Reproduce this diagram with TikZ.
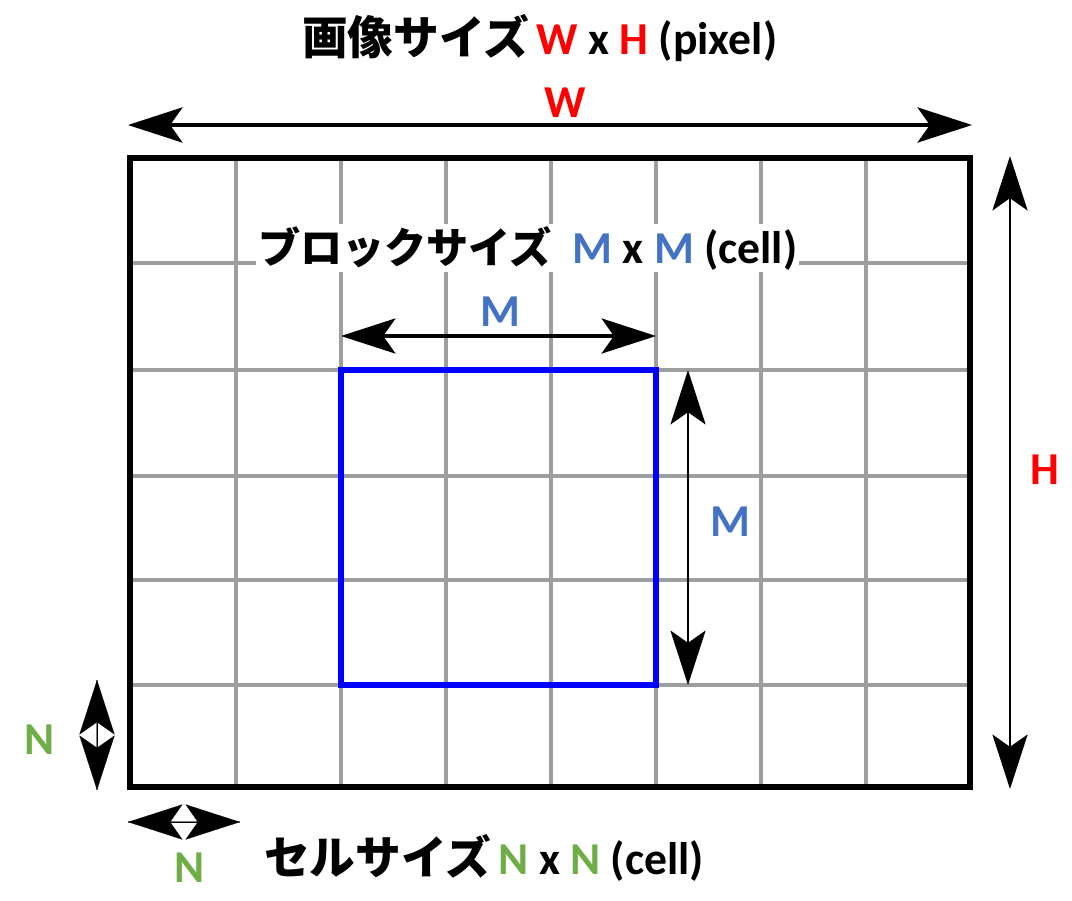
\documentclass[tikz,border=0pt]{standalone}
\usepackage{fontspec}
\setmainfont{Carlito}
\newfontfamily\jp{Noto Sans CJK JP}
\usetikzlibrary{arrows.meta}
\definecolor{wred}{RGB}{255,0,0}
\definecolor{mblue}{RGB}{68,114,196}
\definecolor{ngreen}{RGB}{112,173,71}
\definecolor{boxblue}{RGB}{0,0,255}

\tikzset{
  head/.tip={Stealth[length=31pt,width=20pt,inset=7pt]},
  dim/.style={line width=1.8pt,{head}-{head}},
  grid/.style={black!38,line width=1.8pt},
  lab/.style={font=\bfseries\fontsize{26}{28}\selectfont,inner sep=1pt},
}

\begin{document}
\begin{tikzpicture}[x=0.02cm,y=-0.02cm]
  \useasboundingbox (0,0) rectangle (1072,900);

  % cells
  \foreach \x in {236,341,446,551,656,761,866}
    \draw[grid] (\x,158) -- (\x,787);
  \foreach \y in {263,370,476,580,685}
    \draw[grid] (130,\y) -- (970,\y);
  \draw[line width=3pt] (130,158) rectangle (970,787);
  \draw[boxblue,line width=3pt] (341,370) rectangle (656,685);

  % end points of the dimension arrows
  \coordinate (wL) at (128,125);  \coordinate (wR) at (972,125);
  \coordinate (hT) at (1010,156); \coordinate (hB) at (1010,789);
  \coordinate (mL) at (341,336);  \coordinate (mR) at (656,336);
  \coordinate (mT) at (688,370);  \coordinate (mB) at (688,685);
  \coordinate (nT) at (97,680);   \coordinate (nB) at (97,790);
  \coordinate (nL) at (128,822);  \coordinate (nR) at (240,822);

  \draw[dim,line width=2.2pt] (wL) -- (wR);
  \draw[dim,line width=1.4pt] (hT) -- (hB);
  \draw[dim] (mL) -- (mR);
  \draw[dim,line width=1.2pt] (mT) -- (mB);
  \draw[gray,line width=1pt] (nT) -- (nB);
  \draw[gray,line width=1pt] (nL) -- (nR);
  \draw[dim,line width=0.1pt] (nT) -- (nB);
  \draw[dim,line width=0.1pt] (nL) -- (nR);

  % labels
  \node[lab,text=wred] (wlab) at (565,103) {W};
  \node[lab,text=wred] (hlab) at (1045,470) {H};
  \node[lab,text=mblue] (mlab1) at (500,312) {M};
  \node[lab,text=mblue] (mlab2) at (730,522) {M};
  \node[lab,text=ngreen] (nlab1) at (40,740) {N};
  \node[lab,text=ngreen] (nlab2) at (190,868) {N};

  \node[lab,anchor=west] (title) at (300,38)
    {{\jp 画像サイズ}\,\textcolor{wred}{W} x \textcolor{wred}{H} (pixel)};
  \node[lab,anchor=west,fill=white] (block) at (256,248)
    {{\jp\fontsize{24}{26}\selectfont ブロックサイズ}\hspace{0.45em}\textcolor{mblue}{M} x \textcolor{mblue}{M} (cell)};
  \node[lab,anchor=west] (cell) at (262,858)
    {{\jp セルサイズ}\,\textcolor{ngreen}{N} x \textcolor{ngreen}{N} (cell)};
\end{tikzpicture}
\end{document}
